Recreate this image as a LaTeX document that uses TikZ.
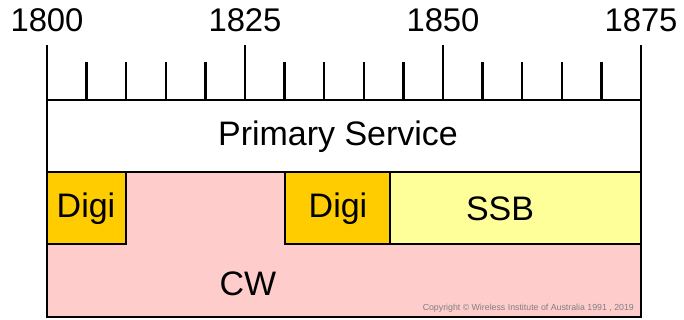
\documentclass[tikz,border=0pt]{standalone}
\usepackage{fontspec}
\setmainfont{Liberation Sans}
\usepackage{tikz}
\definecolor{digi}{HTML}{FFCC00}
\definecolor{ssb}{HTML}{FFFF99}
\definecolor{cw}{HTML}{FFCCCC}
\tikzset{
    band/.style={draw=black, line width=2.4pt},
    lbl/.style={font=\fontsize{29}{31}\selectfont},
    yrlbl/.style={font=\fontsize{28}{30}\selectfont},
    tick/.style={line width=2.2pt}
}

\begin{document}
\begin{tikzpicture}[x=0.03cm, y=-0.03cm]
    \useasboundingbox (0,0) rectangle (684,320);
    % bands
    \filldraw[band, fill=cw] (47,172) rectangle (641,317);
    \filldraw[band, fill=white] (47,100) rectangle (641,172);
    \filldraw[band, fill=digi] (47,172) rectangle (126,244);
    \filldraw[band, fill=digi] (285,172) rectangle (390,244);
    \filldraw[band, fill=ssb] (390,172) rectangle (641,244);
    % ruler
    \foreach \i in {0,...,15}{
        \pgfmathtruncatemacro{\r}{mod(\i,5)}
        \ifnum\r=0
            \draw[tick] ({47+\i*39.6},100) -- ({47+\i*39.6},45);
        \else
            \draw[tick] ({47+\i*39.6},100) -- ({47+\i*39.6},62);
        \fi
    }
    \foreach \yr [count=\j from 0] in {1800,1825,1850,1875}
        \node[yrlbl] (yr\yr) at ({47+\j*198},20) {\yr};
    % labels
    \node[lbl] (prim) at (338,137) {Primary Service};
    \node[lbl] (digiA) at (86,209) {Digi};
    \node[lbl] (digiB) at (338,209) {Digi};
    \node[lbl] (ssb) at (500,209) {SSB};
    \node[lbl] (cw) at (248,284) {CW};
    \node[font=\fontsize{7.5}{9}\selectfont, text=gray, anchor=east] (copy) at (638,308) {Copyright \textcopyright\ Wireless Institute of Australia 1991 , 2019};
\end{tikzpicture}
\end{document}
